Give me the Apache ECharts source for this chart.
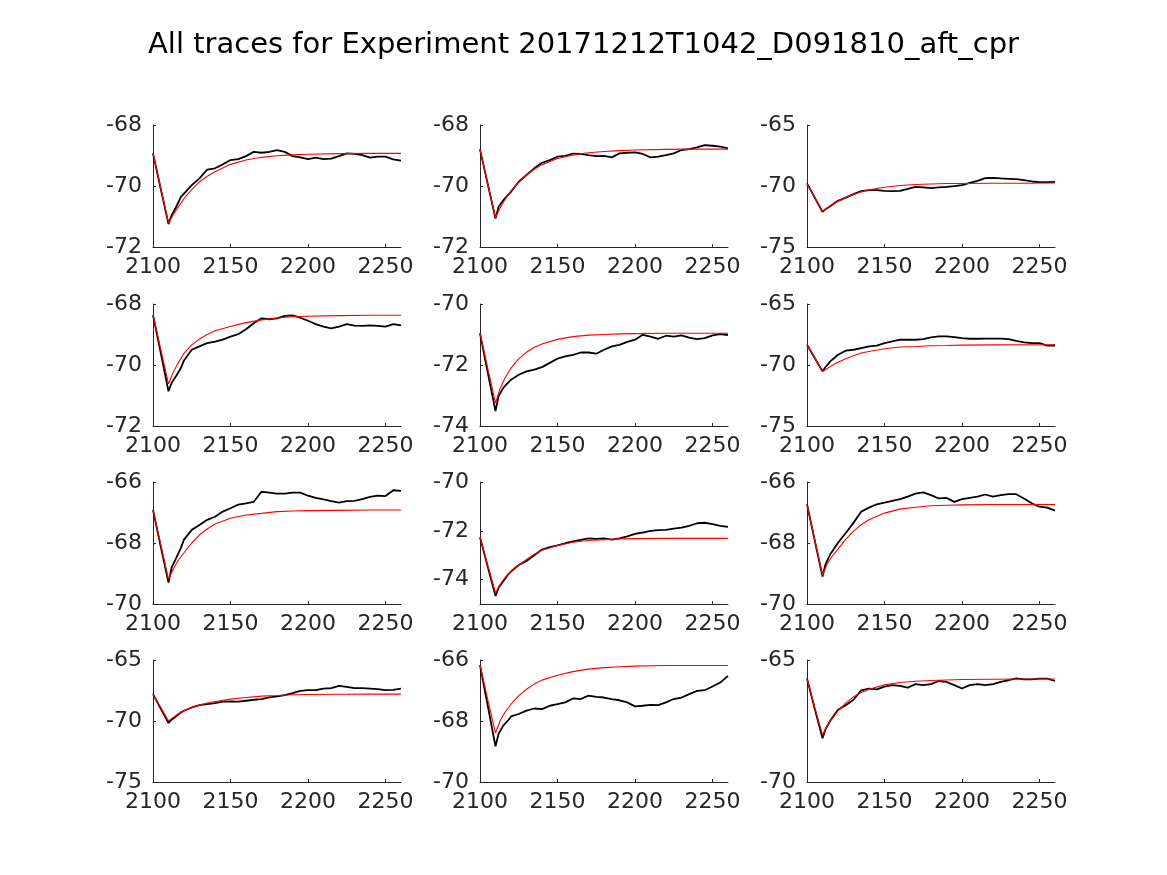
<!DOCTYPE html>
<html>
<head>
<meta charset="utf-8">
<script src="https://cdn.jsdelivr.net/npm/echarts@6/dist/echarts.min.js"></script>
<style>
html,body{margin:0;padding:0;background:#fff;}
#chart{width:1167px;height:875px;}
</style>
</head>
<body>
<div id="chart"></div>
<script>
const titleText = "All traces for Experiment 20171212T1042_D091810_aft_cpr";

const xTrace = [2100,2105,2110,2112,2115,2118,2120,2125,2130,2135,2140,2145,2150,2155,2160,2165,2170,2175,2180,2185,2190,2195,2200,2205,2210,2215,2220,2225,2230,2235,2240,2245,2250,2255,2260];
const xFit = [2100,2105,2110,2113,2116,2120,2125,2130,2135,2140,2150,2160,2170,2180,2190,2200,2220,2240,2260];
const xTicks = [2100,2150,2200,2250];

const trace1 = [-68.93,-70.10,-71.25,-70.96,-70.68,-70.36,-70.25,-69.97,-69.75,-69.46,-69.42,-69.29,-69.15,-69.12,-69.02,-68.88,-68.91,-68.88,-68.82,-68.88,-69.02,-69.06,-69.12,-69.07,-69.12,-69.10,-69.02,-68.93,-68.95,-68.99,-69.07,-69.04,-69.04,-69.13,-69.17];
const fit1 = [-68.93,-70.07,-71.21,-70.95,-70.71,-70.41,-70.12,-69.86,-69.68,-69.53,-69.29,-69.15,-69.06,-69.01,-68.98,-68.96,-68.94,-68.93,-68.93];

const trace2 = [-68.80,-69.94,-71.07,-70.68,-70.47,-70.30,-70.19,-69.86,-69.64,-69.42,-69.24,-69.15,-69.04,-69.01,-68.94,-68.95,-68.99,-69.02,-69.01,-69.06,-68.93,-68.91,-68.90,-68.95,-69.06,-69.04,-68.99,-68.93,-68.82,-68.79,-68.73,-68.66,-68.68,-68.71,-68.77];
const fit2 = [-68.80,-69.92,-71.03,-70.72,-70.45,-70.16,-69.87,-69.64,-69.45,-69.30,-69.10,-68.98,-68.91,-68.87,-68.84,-68.82,-68.80,-68.79,-68.79];

const trace3 = [-69.79,-70.95,-72.12,-71.90,-71.66,-71.38,-71.22,-70.95,-70.67,-70.42,-70.34,-70.34,-70.40,-70.42,-70.40,-70.23,-70.07,-70.12,-70.18,-70.12,-70.07,-70.01,-69.93,-69.74,-69.58,-69.36,-69.33,-69.38,-69.41,-69.44,-69.52,-69.63,-69.68,-69.68,-69.66];
const fit3 = [-69.79,-70.95,-72.05,-71.80,-71.55,-71.25,-70.95,-70.68,-70.48,-70.32,-70.10,-69.96,-69.88,-69.83,-69.80,-69.79,-69.78,-69.77,-69.76];

const trace4 = [-68.36,-69.60,-70.86,-70.59,-70.35,-70.10,-69.85,-69.50,-69.39,-69.28,-69.23,-69.17,-69.07,-68.99,-68.83,-68.63,-68.47,-68.50,-68.47,-68.39,-68.37,-68.45,-68.55,-68.66,-68.74,-68.80,-68.74,-68.66,-68.71,-68.72,-68.70,-68.72,-68.74,-68.66,-68.70];
const fit4 = [-68.36,-69.49,-70.62,-70.25,-69.95,-69.62,-69.34,-69.15,-69.00,-68.88,-68.74,-68.61,-68.52,-68.46,-68.42,-68.40,-68.38,-68.37,-68.37];

const trace5 = [-70.96,-72.25,-73.51,-73.02,-72.75,-72.59,-72.48,-72.32,-72.21,-72.15,-72.07,-71.93,-71.79,-71.72,-71.67,-71.59,-71.59,-71.63,-71.50,-71.39,-71.34,-71.24,-71.17,-71.01,-71.07,-71.14,-71.04,-71.07,-71.03,-71.10,-71.15,-71.12,-71.03,-70.99,-71.02];
const fit5 = [-70.96,-72.10,-73.25,-72.76,-72.44,-72.10,-71.80,-71.58,-71.42,-71.31,-71.16,-71.07,-71.02,-71.00,-70.98,-70.97,-70.96,-70.96,-70.96];

const trace6 = [-68.34,-69.43,-70.52,-70.16,-69.70,-69.38,-69.16,-68.83,-68.75,-68.61,-68.48,-68.42,-68.21,-68.07,-67.93,-67.93,-67.93,-67.88,-67.74,-67.66,-67.66,-67.72,-67.80,-67.85,-67.85,-67.83,-67.83,-67.83,-67.88,-68.02,-68.15,-68.21,-68.21,-68.42,-68.40];
const fit6 = [-68.34,-69.40,-70.52,-70.30,-70.05,-69.78,-69.48,-69.24,-69.02,-68.89,-68.67,-68.53,-68.48,-68.42,-68.40,-68.37,-68.35,-68.34,-68.34];

const trace7 = [-66.92,-68.12,-69.30,-68.81,-68.49,-68.16,-67.89,-67.57,-67.41,-67.24,-67.14,-66.97,-66.86,-66.74,-66.70,-66.65,-66.32,-66.35,-66.38,-66.38,-66.35,-66.35,-66.45,-66.52,-66.57,-66.63,-66.68,-66.63,-66.62,-66.56,-66.49,-66.45,-66.46,-66.27,-66.29];
const fit7 = [-66.92,-68.05,-69.19,-68.86,-68.59,-68.32,-68.00,-67.73,-67.54,-67.38,-67.19,-67.08,-67.03,-66.97,-66.95,-66.94,-66.93,-66.92,-66.92];

const trace8 = [-72.27,-73.47,-74.67,-74.33,-74.07,-73.80,-73.67,-73.40,-73.24,-73.00,-72.77,-72.67,-72.60,-72.51,-72.43,-72.37,-72.31,-72.33,-72.31,-72.36,-72.31,-72.23,-72.13,-72.07,-72.00,-71.97,-71.96,-71.91,-71.87,-71.80,-71.69,-71.67,-71.73,-71.80,-71.84];
const fit8 = [-72.27,-73.42,-74.55,-74.20,-73.93,-73.67,-73.40,-73.17,-72.96,-72.80,-72.60,-72.47,-72.40,-72.36,-72.33,-72.32,-72.31,-72.31,-72.31];

const trace9 = [-66.73,-67.92,-69.10,-68.69,-68.37,-68.15,-67.99,-67.67,-67.34,-66.97,-66.84,-66.73,-66.68,-66.62,-66.56,-66.48,-66.38,-66.34,-66.43,-66.54,-66.52,-66.65,-66.56,-66.52,-66.48,-66.41,-66.48,-66.43,-66.40,-66.40,-66.54,-66.70,-66.81,-66.84,-66.94];
const fit9 = [-66.73,-67.90,-69.05,-68.69,-68.45,-68.20,-67.88,-67.61,-67.40,-67.24,-67.02,-66.89,-66.83,-66.78,-66.76,-66.75,-66.74,-66.74,-66.74];

const trace10 = [-67.80,-68.98,-70.16,-69.89,-69.62,-69.29,-69.16,-68.89,-68.70,-68.61,-68.53,-68.42,-68.40,-68.42,-68.34,-68.26,-68.21,-68.07,-67.99,-67.88,-67.72,-67.53,-67.47,-67.47,-67.34,-67.31,-67.12,-67.20,-67.31,-67.31,-67.34,-67.39,-67.47,-67.45,-67.34];
const fit10 = [-67.80,-68.90,-70.00,-69.70,-69.43,-69.16,-68.89,-68.70,-68.53,-68.40,-68.21,-68.07,-67.96,-67.91,-67.85,-67.83,-67.81,-67.80,-67.80];

const trace11 = [-66.17,-67.50,-68.83,-68.42,-68.15,-67.99,-67.85,-67.77,-67.66,-67.59,-67.61,-67.50,-67.45,-67.39,-67.26,-67.28,-67.17,-67.21,-67.23,-67.28,-67.32,-67.39,-67.52,-67.50,-67.47,-67.48,-67.39,-67.28,-67.23,-67.12,-67.01,-66.99,-66.87,-66.74,-66.52];
const fit11 = [-66.17,-67.30,-68.40,-67.99,-67.72,-67.45,-67.17,-66.96,-66.79,-66.66,-66.50,-66.38,-66.30,-66.25,-66.22,-66.20,-66.18,-66.18,-66.18];

const trace12 = [-65.76,-67.00,-68.21,-67.83,-67.49,-67.21,-67.04,-66.85,-66.63,-66.24,-66.17,-66.20,-66.09,-66.03,-66.06,-66.13,-65.99,-66.03,-65.99,-65.86,-65.90,-66.03,-66.17,-66.03,-65.99,-66.03,-65.99,-65.90,-65.83,-65.75,-65.79,-65.79,-65.76,-65.76,-65.86];
const fit12 = [-65.76,-66.95,-68.07,-67.69,-67.42,-67.08,-66.77,-66.51,-66.33,-66.20,-66.02,-65.92,-65.87,-65.84,-65.82,-65.80,-65.79,-65.78,-65.78];

const yTicks1 = [-72,-70,-68];
const yTicks2 = [-72,-70,-68];
const yTicks3 = [-75,-70,-65];
const yTicks4 = [-72,-70,-68];
const yTicks5 = [-74,-72,-70];
const yTicks6 = [-75,-70,-65];
const yTicks7 = [-70,-68,-66];
const yTicks8 = [-74,-72,-70];
const yTicks9 = [-70,-68,-66];
const yTicks10 = [-75,-70,-65];
const yTicks11 = [-70,-68,-66];
const yTicks12 = [-70,-65];

const yMins = [-72,-72,-75,-72,-74,-75,-70,-75,-70,-75,-70,-70];
const yMaxs = [-68,-68,-65,-68,-70,-65,-66,-70,-66,-65,-66,-65];

const traces = [trace1,trace2,trace3,trace4,trace5,trace6,trace7,trace8,trace9,trace10,trace11,trace12];
const fits = [fit1,fit2,fit3,fit4,fit5,fit6,fit7,fit8,fit9,fit10,fit11,fit12];
const yTickSets = [yTicks1,yTicks2,yTicks3,yTicks4,yTicks5,yTicks6,yTicks7,yTicks8,yTicks9,yTicks10,yTicks11,yTicks12];

const colLefts = [153, 480, 807];
const rowTops = [125, 304, 482, 660];
const plotW = 248;
const plotH = 122;

const textColor = '#262626';
const fontFam = 'DejaVu Sans';

const grids = [], xAxes = [], yAxes = [], series = [];
for (let i = 0; i < 12; i++) {
  const r = Math.floor(i / 3), c = i % 3;
  grids.push({left: colLefts[c], top: rowTops[r], width: plotW, height: plotH, containLabel: false});
  xAxes.push({
    type: 'value', gridIndex: i, min: 2100, max: 2260,
    axisLine: {show: true, onZero: false, lineStyle: {color: textColor, width: 1}},
    axisTick: {show: true, inside: true, length: 3, customValues: xTicks, lineStyle: {color: textColor}},
    axisLabel: {show: true, customValues: xTicks, formatter: v => String(v), color: textColor, fontSize: 22, fontFamily: fontFam, margin: 9},
    splitLine: {show: false}
  });
  yAxes.push({
    type: 'value', gridIndex: i, min: yMins[i], max: yMaxs[i],
    axisLine: {show: true, onZero: false, lineStyle: {color: textColor, width: 1}},
    axisTick: {show: true, inside: true, length: 3, customValues: yTickSets[i], lineStyle: {color: textColor}},
    axisLabel: {show: true, customValues: yTickSets[i], formatter: v => String(v), color: textColor, fontSize: 22, fontFamily: fontFam, margin: 11},
    splitLine: {show: false}
  });
  series.push({
    type: 'line', xAxisIndex: i, yAxisIndex: i, showSymbol: false, silent: true,
    data: xTrace.map((x, k) => [x, traces[i][k]]),
    lineStyle: {color: '#000000', width: 1.8}, z: 2
  });
  series.push({
    type: 'line', xAxisIndex: i, yAxisIndex: i, showSymbol: false, silent: true,
    data: xFit.map((x, k) => [x, fits[i][k]]),
    lineStyle: {color: '#ff0000', width: 1.1}, z: 3
  });
}

const chart = echarts.init(document.getElementById('chart'), null, {renderer: 'canvas'});
chart.setOption({
  backgroundColor: '#ffffff',
  animation: false,
  title: {
    text: titleText, left: 'center', top: 26,
    textStyle: {color: '#000000', fontSize: 29, fontWeight: 'normal', fontFamily: fontFam}
  },
  grid: grids,
  xAxis: xAxes,
  yAxis: yAxes,
  series: series
});
</script>
</body>
</html>
